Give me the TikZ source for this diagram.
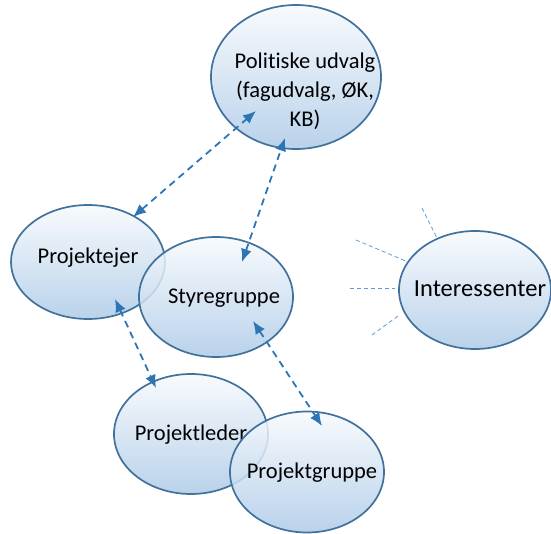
\documentclass[tikz,border=0pt]{standalone}
\usepackage{fontspec}
\setmainfont[Ligatures=CommonOff]{Carlito}
\usetikzlibrary{shapes.geometric,arrows.meta}
\definecolor{edgec}{HTML}{41719C}
\definecolor{topc}{HTML}{F7FAFD}
\definecolor{botc}{HTML}{ADCAE7}
\definecolor{arrc}{HTML}{2E75B6}
\definecolor{rayc}{HTML}{5B9BD5}
\tikzset{
  bubble/.style={ellipse, draw=edgec, line width=1.7pt, top color=topc, bottom color=botc,
    fill opacity=0.85, draw opacity=1, minimum width=154pt, minimum height=120pt, inner sep=0pt},
  lbl/.style={font=\fontsize{22.5}{29}\selectfont, text=black, align=center, inner sep=0pt},
  link/.style={arrc, line width=1.8pt, dash pattern=on 7pt off 5pt,
    {Latex[length=13pt,width=11pt]}-{Latex[length=13pt,width=11pt]}},
  rayline/.style={rayc, line width=0.8pt, dash pattern=on 4pt off 3pt}
}
\begin{document}
\begin{tikzpicture}[x=1pt,y=-1pt]
\useasboundingbox (0,0) rectangle (551,534);
% bubbles
\node[bubble, minimum width=170pt, minimum height=144pt] (pol) at (296,77) {};
\node[lbl] (poltxt) at (305,91) {Politiske udvalg\\(fagudvalg, ØK,\\KB)};
\node[bubble, minimum height=114pt] (ejer) at (88,262) {};
\node[lbl] (ejertxt) at (88,258) {Projektejer};
\node[bubble] (styr) at (216,297) {};
\node[lbl] (styrtxt) at (224,298) {Styregruppe};
\node[bubble, minimum width=152pt, minimum height=118pt] (int) at (475,290) {};
\node[lbl, font=\fontsize{24.5}{29}\selectfont] (inttxt) at (480,289) {Interessenter};
\node[bubble] (leder) at (191,434) {};
\node[lbl] (ledertxt) at (191,435) {Projektleder};
\node[bubble, minimum height=121pt] (grp) at (307,472) {};
\node[lbl] (grptxt) at (312,473) {Projektgruppe};
% arrow end points
\coordinate (p1) at (256,111);
\coordinate (e1) at (133,217);
\coordinate (p2) at (285,138);
\coordinate (s2) at (242,262);
\coordinate (e3) at (115,299);
\coordinate (l3) at (156,388);
\coordinate (s4) at (253,321);
\coordinate (g4) at (322,426);
\draw[link] (e1) -- (p1);
\draw[link] (s2) -- (p2);
\draw[link] (e3) -- (l3);
\draw[link] (s4) -- (g4);
% rays
\coordinate (r1a) at (422,208);
\coordinate (r1b) at (437,238);
\coordinate (r2a) at (356,240);
\coordinate (r2b) at (408,262);
\coordinate (r3a) at (350,288);
\coordinate (r3b) at (395,288);
\coordinate (r4a) at (372,335);
\coordinate (r4b) at (398,316);
\draw[rayline] (r1a) -- (r1b);
\draw[rayline] (r2a) -- (r2b);
\draw[rayline] (r3a) -- (r3b);
\draw[rayline] (r4a) -- (r4b);
\end{tikzpicture}
\end{document}
